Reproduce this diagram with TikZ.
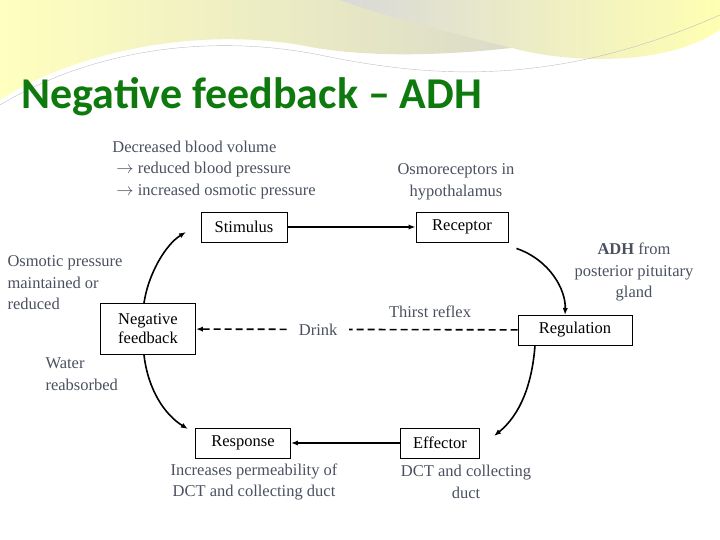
\documentclass[tikz,border=0pt]{standalone}
\usepackage{fontspec}
\setmainfont{Liberation Serif}
\newfontfamily\titlefont{Carlito}
\usetikzlibrary{arrows.meta}
\definecolor{txtgray}{HTML}{4A5060}
\definecolor{titlegreen}{HTML}{0E7A0E}
\begin{document}
\begin{tikzpicture}[x=1pt,y=-1pt,
  box/.style={draw, line width=0.9pt, font=\fontsize{16.5}{19}\selectfont, inner sep=4pt, minimum height=30pt, align=left, fill=white},
  note/.style={text=txtgray, font=\fontsize{16.5}{21.5}\selectfont, align=center},
  flow/.style={-{Latex[length=7pt]}, line width=1.8pt},
  loop/.style={-{Latex[length=7pt]}, line width=1.6pt}]
\useasboundingbox (0,0) rectangle (720,540);
% banner
\shade[left color=yellow!25, right color=gray!40] (0,0) -- (720,0) -- (720,10) .. controls (600,40) and (420,70) .. (300,45) .. controls (180,25) and (60,60) .. (0,100) -- cycle;
\shade[left color=gray!30, right color=yellow!30] (340,0) -- (720,0) -- (720,30) .. controls (660,70) and (560,60) .. (520,50) .. controls (440,30) and (380,15) .. (340,0) -- cycle;
\draw[gray!50] (0,105) .. controls (100,45) and (220,35) .. (320,55) .. controls (440,80) and (560,85) .. (720,15);
\node[anchor=west, text=titlegreen, font=\titlefont\bfseries\fontsize{44}{48}\selectfont] (title) at (18,97) {Negative feedback \textendash{} ADH};
% boxes
\node[box, minimum width=86pt] (stim) at (244,227) {Stimulus};
\node[box, minimum width=92pt] (rec) at (462,227) {Receptor};
\node[box, minimum width=114pt] (reg) at (575,330) {Regulation};
\node[box, minimum width=95pt, minimum height=51pt] (nf) at (148,329) {Negative\\feedback};
\node[box, minimum width=95pt] (resp) at (243,443) {Response};
\node[box, minimum width=79pt] (eff) at (440,443) {Effector};
% notes
\node[note, align=left] (stimtxt) at (214,170) {Decreased blood volume\\\ $\rightarrow$ reduced blood pressure\\\ $\rightarrow$ increased osmotic pressure};
\node[note] (rectxt) at (456,182) {Osmoreceptors in\\hypothalamus};
\node[note] (regtxt) at (634,272) {\textbf{ADH} from\\posterior pituitary\\gland};
\node[note] (resptxt) at (254,482) {Increases permeability of\\DCT and collecting duct};
\node[note] (efftxt) at (466,482) {DCT and collecting\\duct};
\node[note, align=left, anchor=west] (nftxt) at (4,283) {Osmotic pressure\\maintained or\\reduced};
\node[note, align=left, anchor=west] (watertxt) at (42,374) {Water\\reabsorbed};
\node[note] (thirst) at (430,312) {Thirst reflex};
% connectors
\draw[flow] (stim) -- (rec);
\draw[flow] (eff) -- (resp);
\draw[flow, dash pattern=on 7pt off 4pt, line width=1.6pt] (reg) -- node[note, fill=white, pos=0.62, inner xsep=12pt] (drink) {Drink} (nf);
\draw[loop] (nf.north) ++(-4,0) .. controls (148,275) and (165,245) .. (186,232);
\draw[loop] (rec.south east) ++(8,6) .. controls (550,260) and (566,290) .. (565,315);
\draw[loop] (reg.south) ++(-40,0) .. controls (532,385) and (520,415) .. (494,436);
\draw[loop] (nf.south) ++(-4,0) .. controls (148,390) and (165,415) .. (188,429);
\end{tikzpicture}
\end{document}
